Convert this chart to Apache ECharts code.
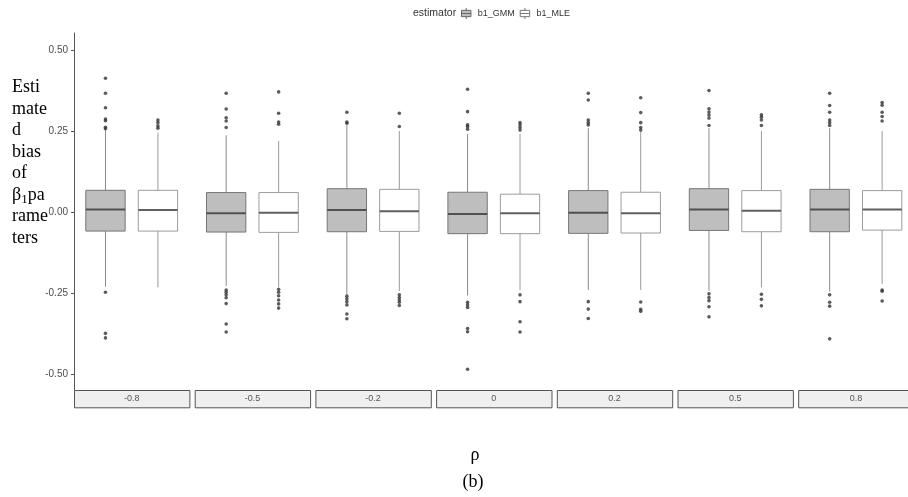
<!DOCTYPE html>
<html>
<head>
<meta charset="utf-8">
<script src="https://cdn.jsdelivr.net/npm/echarts@6/dist/echarts.min.js"></script>
<style>
  html, body { margin: 0; padding: 0; background: #fff; }
  #chart { width: 908px; height: 497px; }
</style>
</head>
<body>
<div id="chart"></div>
<script>
// Facet levels of rho and the two estimators compared in each facet
const rhoLevels = ['-0.8', '-0.5', '-0.2', '0', '0.2', '0.5', '0.8'];
const estimators = ['b1_GMM', 'b1_MLE'];

// Box statistics per facet: [lower whisker, Q1, median, Q3, upper whisker]
const gmmStats = [
  [-0.231, -0.059, 0.008, 0.067, 0.253],
  [-0.229, -0.062, -0.004, 0.060, 0.237],
  [-0.255, -0.061, 0.006, 0.072, 0.268],
  [-0.258, -0.067, -0.006, 0.061, 0.241],
  [-0.241, -0.066, -0.002, 0.066, 0.259],
  [-0.243, -0.057, 0.008, 0.072, 0.259],
  [-0.246, -0.061, 0.008, 0.070, 0.259]
];
const mleStats = [
  [-0.233, -0.059, 0.006, 0.067, 0.245],
  [-0.231, -0.063, -0.002, 0.060, 0.219],
  [-0.244, -0.060, 0.002, 0.070, 0.250],
  [-0.241, -0.067, -0.004, 0.055, 0.241],
  [-0.241, -0.065, -0.004, 0.061, 0.248],
  [-0.233, -0.061, 0.004, 0.066, 0.250],
  [-0.222, -0.056, 0.008, 0.066, 0.250]
];

// Outlying estimates per facet
const gmmOutliers = [
  [0.413, 0.367, 0.322, 0.287, 0.282, 0.262, 0.257, -0.248, -0.375, -0.389],
  [0.367, 0.318, 0.291, 0.281, 0.261, -0.241, -0.248, -0.256, -0.265, -0.283, -0.346, -0.371],
  [0.308, 0.278, 0.274, -0.260, -0.268, -0.277, -0.287, -0.315, -0.330],
  [0.379, 0.310, 0.269, 0.264, 0.256, -0.279, -0.287, -0.295, -0.360, -0.370, -0.486],
  [0.367, 0.346, 0.284, 0.276, 0.269, -0.277, -0.300, -0.329],
  [0.375, 0.319, 0.309, 0.300, 0.290, 0.267, -0.253, -0.264, -0.274, -0.293, -0.324],
  [0.367, 0.329, 0.308, 0.284, 0.276, 0.267, -0.256, -0.279, -0.291, -0.392]
];
const mleOutliers = [
  [0.284, 0.276, 0.266, 0.259],
  [0.371, 0.305, 0.278, 0.271, -0.239, -0.248, -0.259, -0.272, -0.284, -0.297],
  [0.305, 0.264, -0.256, -0.264, -0.272, -0.279, -0.289],
  [0.276, 0.269, 0.261, 0.253, -0.256, -0.277, -0.339, -0.371],
  [0.353, 0.307, 0.276, 0.261, 0.253, -0.278, -0.301, -0.307],
  [0.300, 0.293, 0.284, 0.267, -0.254, -0.270, -0.290],
  [0.338, 0.330, 0.308, 0.295, 0.281, -0.241, -0.245, -0.275]
];

// Y-axis tick values
const yTicks = [-0.5, -0.25, 0, 0.25, 0.5];

// ---- layout of the facet panels ----
const panelLeft0 = 74;
const panelStep = 120.7;
const panelWidth = 115.4;
const panelTop = 33;
const panelBottom = 390;
const stripHeight = 17.3;
const unit = panelWidth / 2.2;          // one discrete x unit (range 0.4 .. 2.6)
const gridInset = 0.1 * unit;

const styles = {
  b1_GMM: { fill: '#bebebe', stroke: '#767676', median: '#505050', whisker: '#8a8a8a' },
  b1_MLE: { fill: '#ffffff', stroke: '#9c9c9c', median: '#606060', whisker: '#9a9a9a' }
};

function makeRenderer(st) {
  return function (params, api) {
    const x = api.value(0);
    const low = api.coord([x, api.value(1)]);
    const q1 = api.coord([x, api.value(2)]);
    const med = api.coord([x, api.value(3)]);
    const q3 = api.coord([x, api.value(4)]);
    const high = api.coord([x, api.value(5)]);
    const halfW = api.size([1, 0])[0] * 0.75 / 2;
    const cx = med[0];
    return {
      type: 'group',
      children: [
        { type: 'line', shape: { x1: cx, y1: q3[1], x2: cx, y2: high[1] },
          style: { stroke: st.whisker, lineWidth: 1 } },
        { type: 'line', shape: { x1: cx, y1: q1[1], x2: cx, y2: low[1] },
          style: { stroke: st.whisker, lineWidth: 1 } },
        { type: 'rect', shape: { x: cx - halfW, y: q3[1], width: 2 * halfW, height: q1[1] - q3[1] },
          style: { fill: st.fill, stroke: st.stroke, lineWidth: 1 } },
        { type: 'line', shape: { x1: cx - halfW, y1: med[1], x2: cx + halfW, y2: med[1] },
          style: { stroke: st.median, lineWidth: 2 } }
      ]
    };
  };
}

const grids = [], xAxes = [], yAxes = [], series = [], graphics = [];

rhoLevels.forEach(function (rho, i) {
  const pLeft = panelLeft0 + i * panelStep;
  grids.push({
    left: pLeft + gridInset, top: panelTop,
    width: 2 * unit, height: panelBottom - panelTop,
    outerBoundsMode: 'none', containLabel: false
  });
  xAxes.push({
    type: 'category', gridIndex: i, data: estimators, position: 'bottom',
    offset: stripHeight,
    axisLine: { show: false },
    axisTick: { show: true, alignWithLabel: true, length: 3, lineStyle: { color: '#555', width: 1 } },
    axisLabel: { show: false },
    splitLine: { show: false }
  });
  yAxes.push({
    type: 'value', gridIndex: i, min: -0.55, max: 0.553,
    show: i === 0, offset: gridInset,
    axisLine: { show: true, lineStyle: { color: '#555', width: 1 } },
    axisTick: { show: true, length: 3, customValues: yTicks, lineStyle: { color: '#555' } },
    axisLabel: {
      customValues: yTicks, margin: 6, fontSize: 10, color: '#4d4d4d',
      fontFamily: 'Liberation Sans',
      formatter: function (v) { return v.toFixed(2); }
    },
    splitLine: { show: false }
  });

  series.push({
    type: 'custom', name: 'b1_GMM', xAxisIndex: i, yAxisIndex: i,
    renderItem: makeRenderer(styles.b1_GMM),
    itemStyle: { color: styles.b1_GMM.fill },
    encode: { x: 0, y: [1, 2, 3, 4, 5] },
    data: [[0].concat(gmmStats[i])]
  });
  series.push({
    type: 'custom', name: 'b1_MLE', xAxisIndex: i, yAxisIndex: i,
    renderItem: makeRenderer(styles.b1_MLE),
    itemStyle: { color: styles.b1_MLE.fill },
    encode: { x: 0, y: [1, 2, 3, 4, 5] },
    data: [[1].concat(mleStats[i])]
  });
  series.push({
    type: 'scatter', name: 'outliers', xAxisIndex: i, yAxisIndex: i,
    symbolSize: 3.6, itemStyle: { color: '#333' },
    data: gmmOutliers[i].map(function (v) { return [0, v]; })
      .concat(mleOutliers[i].map(function (v) { return [1, v]; }))
  });

  // facet strip below each panel
  graphics.push({
    type: 'rect', left: pLeft, top: panelBottom, silent: true,
    shape: { width: panelWidth, height: stripHeight },
    style: { fill: '#efefef', stroke: '#555', lineWidth: 1 }
  });
  graphics.push({
    type: 'text', x: pLeft + panelWidth / 2, y: panelBottom + stripHeight / 2, silent: true,
    style: { text: rho, fill: '#555', fontSize: 9, fontFamily: 'Liberation Sans',
             textAlign: 'center', textVerticalAlign: 'middle' }
  });
});

// y-axis title
graphics.push({
  type: 'text', left: 12, top: 77, silent: true,
  style: {
    text: 'Esti\nmate\nd\nbias\nof\nβ{sub|1}pa\nrame\nters',
    fill: '#000', fontSize: 18, lineHeight: 21.5, fontFamily: 'Liberation Serif',
    rich: {
      sub: { fontSize: 13, lineHeight: 14, verticalAlign: 'bottom', fontFamily: 'Liberation Serif', fill: '#000' }
    }
  }
});
// x-axis title and caption
graphics.push({
  type: 'text', x: 475, y: 455, silent: true,
  style: { text: 'ρ', fill: '#000', fontSize: 18, fontFamily: 'Liberation Serif',
           textAlign: 'center', textVerticalAlign: 'middle' }
});
graphics.push({
  type: 'text', x: 473, y: 482, silent: true,
  style: { text: '(b)', fill: '#000', fontSize: 18, fontFamily: 'Liberation Serif',
           textAlign: 'center', textVerticalAlign: 'middle' }
});
// legend title
graphics.push({
  type: 'text', x: 413, y: 13, silent: true,
  style: { text: 'estimator', fill: '#333', fontSize: 10.5, fontFamily: 'Liberation Sans',
           textVerticalAlign: 'middle' }
});

const boxIcon = 'path://M0,3H12V11H0Z M0,7H12 M6,0V3 M6,11V14';

const option = {
  animation: false,
  backgroundColor: '#ffffff',
  grid: grids,
  xAxis: xAxes,
  yAxis: yAxes,
  legend: {
    left: 461, top: 7.5, padding: 0, itemWidth: 13, itemHeight: 11, itemGap: 5,
    selectedMode: false,
    textStyle: { fontSize: 9, color: '#333', fontFamily: 'Liberation Sans' },
    data: [
      { name: 'b1_GMM', icon: boxIcon,
        itemStyle: { color: styles.b1_GMM.fill, borderColor: '#666', borderWidth: 1 } },
      { name: 'b1_MLE', icon: boxIcon,
        itemStyle: { color: '#ffffff', borderColor: '#777', borderWidth: 1 } }
    ]
  },
  graphic: graphics,
  series: series
};

const chart = echarts.init(document.getElementById('chart'), null, { renderer: 'canvas' });
chart.setOption(option);
</script>
</body>
</html>
